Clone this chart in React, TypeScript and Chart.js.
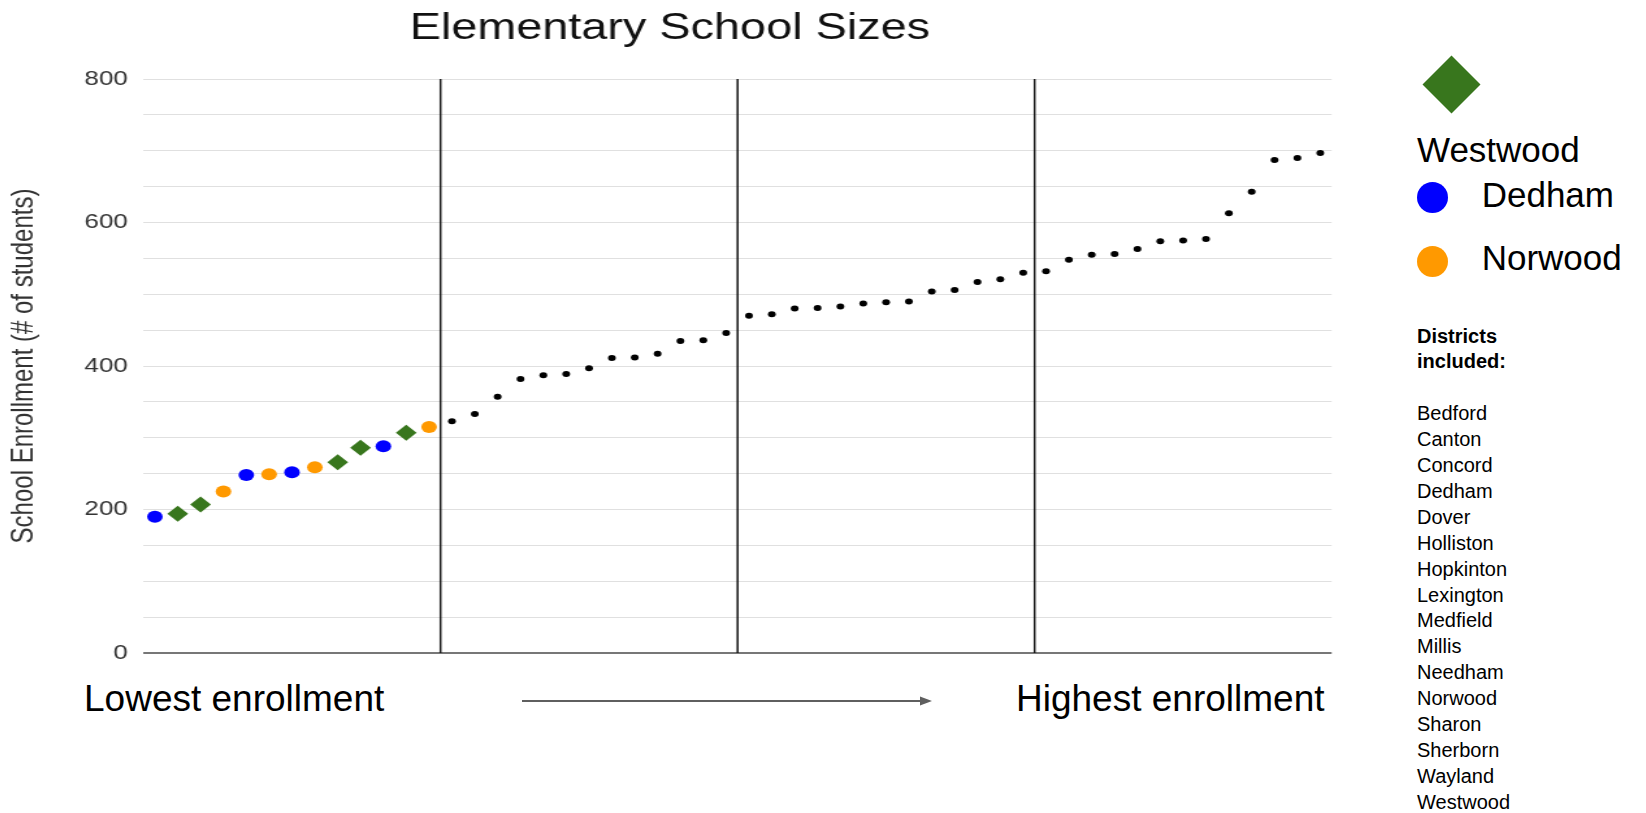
import React, { useEffect, useRef } from 'react';
import { Chart, registerables } from 'chart.js';

Chart.register(...registerables);

// ---------- data ----------
const enrollment = [
  190, 194, 207, 225, 248, 249, 252, 259, 266, 286, 288, 307, 315,
  323, 333, 357, 382, 387, 389, 397, 411, 412, 417, 435, 436, 446,
  470, 472, 480, 481, 483, 487, 489, 490, 504, 506, 517, 521, 530, 532,
  548, 555, 556, 563, 574, 575, 577, 613, 643, 687, 690, 697,
];

const district = [
  'Dedham', 'Westwood', 'Westwood', 'Norwood', 'Dedham', 'Norwood', 'Dedham',
  'Norwood', 'Westwood', 'Westwood', 'Dedham', 'Westwood', 'Norwood',
  ...Array(39).fill('Other'),
];

const quartileBreaks = [12.5, 25.5, 38.5];
const yTickLabels = [0, 200, 400, 600, 800];
const yMinorStep = 50;
const highlightDistricts = ['Westwood', 'Dedham', 'Norwood'];
const districtsIncluded = [
  'Bedford', 'Canton', 'Concord', 'Dedham', 'Dover', 'Holliston', 'Hopkinton',
  'Lexington', 'Medfield', 'Millis', 'Needham', 'Norwood', 'Sharon', 'Sherborn',
  'Wayland', 'Westwood',
];

// ---------- styles ----------
const groupStyle: Record<string, { color: string; pointStyle: string; radius: number }> = {
  Westwood: { color: '#38761d', pointStyle: 'rectRot', radius: 8 },
  Dedham: { color: '#0000ff', pointStyle: 'circle', radius: 6 },
  Norwood: { color: '#ff9900', pointStyle: 'circle', radius: 6 },
  Other: { color: '#000000', pointStyle: 'circle', radius: 3 },
};

const FONT = '"Liberation Sans", Arial, Helvetica, sans-serif';
const STRETCH = 1.3;
const CW = 1020;
const CH = 660;

export default function App() {
  const canvasRef = useRef<HTMLCanvasElement | null>(null);

  useEffect(() => {
    document.documentElement.style.overflow = 'hidden';
    if (!canvasRef.current) return;
    Chart.defaults.font.family = FONT;
    const yMax = Math.max(...yTickLabels);
    const yMin = Math.min(...yTickLabels);

    const pointSets = ['Other', ...highlightDistricts].reverse().map((g) => ({
      label: g,
      data: enrollment
        .map((v, i) => ({ x: i, y: v }))
        .filter((_, i) => district[i] === g),
      pointStyle: groupStyle[g].pointStyle,
      pointRadius: groupStyle[g].radius,
      pointBackgroundColor: groupStyle[g].color,
      pointBorderColor: groupStyle[g].color,
      pointBorderWidth: 0,
      showLine: false,
    }));

    const breakSets = quartileBreaks.map((b, k) => ({
      label: 'break' + k,
      data: [
        { x: b, y: yMin },
        { x: b, y: yMax },
      ],
      showLine: true,
      pointRadius: 0,
      borderColor: '#151515',
      borderWidth: 1.5,
    }));

    const chart = new Chart(canvasRef.current, {
      type: 'scatter',
      data: { datasets: [...pointSets, ...breakSets] as any },
      options: {
        animation: false,
        responsive: false,
        devicePixelRatio: 1,
        layout: { autoPadding: false, padding: { left: 0, right: 1.8, top: 0, bottom: 15 } },
        plugins: {
          legend: { display: false },
          tooltip: { enabled: false },
          title: {
            display: true,
            text: 'Elementary School Sizes',
            color: '#111111',
            font: { size: 36, weight: 'normal', lineHeight: 1, family: FONT },
            padding: { top: 3, bottom: 32 },
          },
        },
        scales: {
          x: {
            type: 'linear',
            min: -0.5,
            max: enrollment.length - 0.5,
            display: false,
          },
          y: {
            min: yMin,
            max: yMax,
            afterFit: (s: any) => {
              s.width = 104.2;
              s.paddingTop = 0;
              s.paddingBottom = 0;
            },
            ticks: {
              stepSize: yMinorStep,
              color: '#333333',
              padding: 12,
              font: { size: 20, family: FONT },
              callback: (v: any) => (yTickLabels.includes(Number(v)) ? String(v) : ''),
            },
            grid: {
              drawTicks: false,
              color: (c: any) => (c.tick && c.tick.value === 0 ? '#777777' : '#e0e0e0'),
              lineWidth: (c: any) => (c.tick && c.tick.value === 0 ? 2 : 1),
            },
            border: { display: false },
            title: {
              display: true,
              text: 'School Enrollment (# of students)',
              color: '#333333',
              font: { size: 24, lineHeight: 1, family: FONT },
              padding: 0,
            },
          },
        },
      } as any,
    });
    return () => chart.destroy();
  }, []);

  const abs = (left: number, top: number, extra: React.CSSProperties = {}): React.CSSProperties => ({
    position: 'absolute',
    left,
    top,
    whiteSpace: 'nowrap',
    fontFamily: FONT,
    color: '#000',
    ...extra,
  });

  return (
    <div style={{ position: 'relative', width: 1630, height: 805, fontFamily: FONT }}>
      <canvas
        ref={canvasRef}
        width={CW}
        height={CH}
        style={{ position: 'absolute', left: 0, top: 0, width: CW * STRETCH + 'px', height: CH + 'px', display: 'block' }}
      />

      {/* legend */}
      <div
        style={abs(1422.5, 55.5, {
          width: 41,
          height: 41,
          background: groupStyle.Westwood.color,
          transform: 'rotate(45deg)',
        })}
      />
      <div style={abs(1409, 124.1, { fontSize: 35, lineHeight: '35px' })}>{highlightDistricts[0]}</div>
      <div
        style={abs(1409.2, 173.8, { width: 31, height: 31, borderRadius: '50%', background: groupStyle.Dedham.color })}
      />
      <div style={abs(1473.7, 169.1, { fontSize: 35, lineHeight: '35px' })}>{highlightDistricts[1]}</div>
      <div
        style={abs(1409.2, 238.2, { width: 31, height: 31, borderRadius: '50%', background: groupStyle.Norwood.color })}
      />
      <div style={abs(1473.7, 232.4, { fontSize: 35, lineHeight: '35px' })}>{highlightDistricts[2]}</div>

      {/* districts list */}
      <div style={abs(1409, 315.5, { fontSize: 20, lineHeight: '25.9px' })}>
        <div style={{ fontWeight: 'bold' }}>Districts</div>
        <div style={{ fontWeight: 'bold' }}>included:</div>
        <div>&nbsp;</div>
        {districtsIncluded.map((d) => (
          <div key={d}>{d}</div>
        ))}
      </div>

      {/* bottom annotation */}
      <div style={abs(76, 671.7, { fontSize: 37, lineHeight: '37px' })}>Lowest enrollment</div>
      <div style={abs(1008, 671.7, { fontSize: 37, lineHeight: '37px' })}>Highest enrollment</div>
      <svg style={{ position: 'absolute', left: 514, top: 685 }} width={412} height={16}>
        <line x1={0} y1={8} x2={400} y2={8} stroke="#5f5f5f" strokeWidth={2} />
        <polygon points="398,3.5 410,8 398,12.5" fill="#5f5f5f" />
      </svg>
    </div>
  );
}
